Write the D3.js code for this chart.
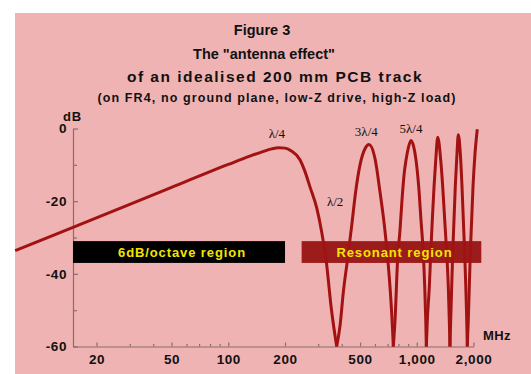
<!DOCTYPE html>
<html>
<head>
<meta charset="utf-8">
<script src="https://cdn.jsdelivr.net/npm/d3@7"></script>
<style>
  html, body { margin: 0; padding: 0; background: #ffffff; }
  svg { display: block; }
</style>
</head>
<body>
<svg id="chart" width="531" height="374"></svg>
<script>
// ---- data ----
const titleLines = ["Figure 3", "The \"antenna effect\"", "of an idealised 200 mm PCB track"];
const subtitle = "(on FR4, no ground plane, low-Z drive, high-Z load)";

// response curve: frequency (MHz) and level (dB)
const freqMHz = [
  7.4, 15, 30, 50, 100, 130, 150, 170, 185, 200, 215, 240, 255, 271, 295, 313, 332, 351, 376,
  392, 408, 430, 452, 474, 500, 532, 558, 600, 638, 673, 701, 724, 742, 751,
  767, 792, 815, 835, 856, 877, 904, 932, 961, 991, 1024, 1053, 1083, 1102, 1116, 1124,
  1138, 1166, 1186, 1209, 1235, 1261, 1292, 1340, 1373, 1407, 1442, 1470, 1488, 1500,
  1514, 1551, 1601, 1635, 1661, 1702, 1738, 1796, 1841, 1854,
  1877, 1923, 1988, 2038, 2095
];
const levelDb = [
  -33.6, -27.2, -20.9, -16.2, -9.9, -7.6, -6.5, -5.6, -5.3, -5.4, -6.1, -8.6, -11.8, -16.0, -22.0, -28.5, -37.1, -49, -60,
  -54.1, -44.9, -35.7, -26.6, -17.4, -10.0, -5.5, -4.4, -8.2, -17.4, -26.6, -35.7, -44.9, -54.1, -60,
  -52.7, -35.7, -27.9, -19.7, -12.8, -8.7, -5.1, -3.3, -4.8, -8.7, -16.0, -25.2, -34.4, -43.5, -52.7, -60,
  -52.7, -43.5, -34.4, -25.2, -16.0, -8.7, -2.4, -8.7, -16.0, -25.2, -34.4, -43.5, -52.7, -60,
  -52.7, -34.4, -16.0, -6.8, -1.7, -6.8, -16.0, -34.4, -52.7, -60,
  -52.7, -34.4, -16.0, -6.8, -0.2
];

const xMajorTicks = [20, 50, 100, 200, 500, 1000, 2000];
const xMinorTicks = [30, 40, 60, 70, 80, 90, 300, 400, 600, 700, 800, 900];
const yMajorTicks = [0, -20, -40, -60];
const yMinorTicks = [-10, -30, -50];

const curveLabels = ["λ/4", "λ/2", "3λ/4", "5λ/4"];
const curveLabelFreq = [181, 369, 540, 932];
const curveLabelDb = [-2.5, -21.3, -2.2, -1.2];

const regionNames = ["6dB/octave region", "Resonant region"];
const regionFrom = [15, 245];
const regionTo = [200, 2200];
const regionDbTop = -31.0;
const regionDbBottom = -37.0;

// ---- drawing ----
const svg = d3.select("#chart");
const BG = "#efb3b3";
const CURVE = "#a31212";
const AXIS = "#8e6c6c";
const SANS = "'Liberation Sans', Arial, sans-serif";

svg.append("rect").attr("x", 15).attr("y", 13).attr("width", 516).attr("height", 361).attr("fill", BG);

const x = d3.scaleLog().domain([15, 2000]).range([73, 473.5]);
const y = d3.scaleLinear().domain([-60, 0]).range([346.5, 128.5]);

// title
const titleY = [35, 59, 81.5];
const titleX = [262, 264, 275];
const titleSize = [14.5, 14.5, 15.5];
const titleSpacing = [0, 0, 1.5];
titleLines.forEach((t, i) => {
  svg.append("text").attr("x", titleX[i]).attr("y", titleY[i])
    .attr("text-anchor", "middle").attr("font-family", SANS).attr("font-weight", "bold")
    .attr("font-size", titleSize[i]).attr("letter-spacing", titleSpacing[i])
    .attr("fill", "#111").text(t);
});
svg.append("text").attr("x", 277).attr("y", 101.5)
  .attr("text-anchor", "middle").attr("font-family", SANS).attr("font-weight", "bold")
  .attr("font-size", 12.5).attr("letter-spacing", 1.1).attr("fill", "#111").text(subtitle);

svg.append("text").attr("x", 63).attr("y", 120.5)
  .attr("font-family", SANS).attr("font-weight", "bold").attr("letter-spacing", 0.8)
  .attr("font-size", 13).attr("fill", "#111").text("dB");

// axes
const xAxisG = svg.append("g").attr("transform", `translate(0,${y(-60)})`);
xAxisG.call(d3.axisBottom(x).tickValues(xMajorTicks).tickFormat(d3.format(","))
  .tickSizeInner(-4).tickSizeOuter(0).tickPadding(8));
const xMinorG = svg.append("g").attr("transform", `translate(0,${y(-60)})`);
xMinorG.call(d3.axisBottom(x).tickValues(xMinorTicks).tickFormat("")
  .tickSizeInner(-2.5).tickSizeOuter(0));
xMinorG.select(".domain").remove();

const yAxisG = svg.append("g").attr("transform", `translate(${x(15)},0)`);
yAxisG.call(d3.axisLeft(y).tickValues(yMajorTicks).tickFormat(d => String(d))
  .tickSizeInner(-5).tickSizeOuter(0).tickPadding(6));
const yMinorG = svg.append("g").attr("transform", `translate(${x(15)},0)`);
yMinorG.call(d3.axisLeft(y).tickValues(yMinorTicks).tickFormat("")
  .tickSizeInner(-4).tickSizeOuter(0));
yMinorG.select(".domain").remove();

svg.selectAll(".domain").attr("stroke", AXIS).attr("stroke-width", 1.2);
svg.selectAll(".tick line").attr("stroke", AXIS).attr("stroke-width", 1.2);
svg.selectAll(".tick text").attr("font-family", SANS).attr("font-weight", "bold")
  .attr("font-size", 13.5).attr("letter-spacing", 0.6).attr("fill", "#111");

svg.append("text").attr("x", 483).attr("y", 340)
  .attr("font-family", SANS).attr("font-weight", "bold").attr("letter-spacing", 0.4)
  .attr("font-size", 13).attr("fill", "#111").text("MHz");

// region bars
const barColors = ["#000000", "#9c1c1c"];
regionNames.forEach((n, i) => {
  svg.append("rect")
    .attr("x", x(regionFrom[i])).attr("y", y(regionDbTop))
    .attr("width", x(regionTo[i]) - x(regionFrom[i]))
    .attr("height", y(regionDbBottom) - y(regionDbTop))
    .attr("fill", barColors[i]);
});

// curve, split into lobes at the -60 dB nulls
const pts = freqMHz.map((f, i) => ({ f, db: levelDb[i] }));
const segments = [];
let cur = [];
pts.forEach(p => {
  cur.push(p);
  if (p.db <= -60) { segments.push(cur); cur = [p]; }
});
if (cur.length > 1) segments.push(cur);

const line = d3.line().x(d => x(d.f)).y(d => y(d.db)).curve(d3.curveMonotoneX);
svg.append("g").selectAll("path").data(segments).join("path")
  .attr("d", line).attr("fill", "none").attr("stroke", CURVE)
  .attr("stroke-width", 3).attr("stroke-linejoin", "miter").attr("stroke-miterlimit", 20);

// region bar labels
regionNames.forEach((n, i) => {
  svg.append("text")
    .attr("x", (x(regionFrom[i]) + x(regionTo[i])) / 2 + 3)
    .attr("y", (y(regionDbTop) + y(regionDbBottom)) / 2 + 4.5)
    .attr("text-anchor", "middle").attr("font-family", SANS).attr("font-weight", "bold")
    .attr("font-size", 13).attr("letter-spacing", 0.9).attr("fill", "#f2e600").text(n);
});

// curve annotations
curveLabels.forEach((t, i) => {
  svg.append("text").attr("x", x(curveLabelFreq[i])).attr("y", y(curveLabelDb[i]))
    .attr("text-anchor", "middle").attr("font-family", "'Liberation Serif', 'Times New Roman', serif")
    .attr("font-size", 13).attr("fill", "#111").text(t);
});
</script>
</body>
</html>
